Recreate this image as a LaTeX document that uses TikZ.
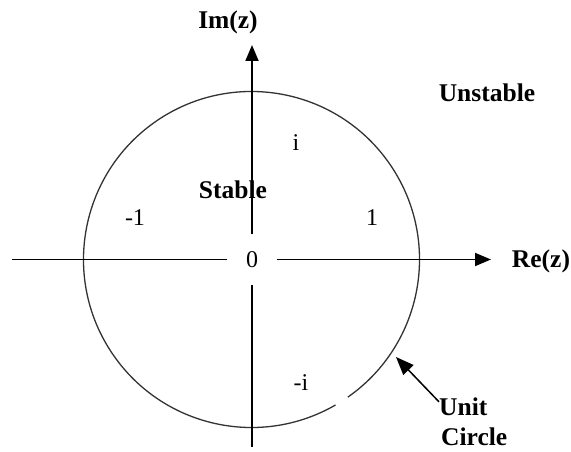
\documentclass[tikz,border=0pt]{standalone}
\usepackage{fontspec}
\setmainfont{Liberation Serif}
\usetikzlibrary{arrows.meta}
\begin{document}
\begin{tikzpicture}[x=1pt,y=-1pt,
  lbl/.style={inner sep=0pt,font=\fontsize{25.5}{30}\selectfont\bfseries},
  num/.style={inner sep=0pt,font=\fontsize{24}{30}\selectfont},
  axis/.style={line width=1.8pt,black},
  tip/.style={-{Triangle[length=16pt,width=13pt]}},
  ucircle/.style={line width=1.3pt,black!80}]
\useasboundingbox (0,0) rectangle (571,452);
% origin box
\node[num,minimum size=50pt] (o) at (252,259.5) {0};
\coordinate (c) at (251.5,259.5);
% circle with a small gap at lower right
\draw[ucircle] (c) ++(-55:168pt) arc[start angle=-55,end angle=300,radius=168pt];
% axes
\coordinate (xl) at (12,259.5);
\coordinate (xr) at (491,259.5);
\coordinate (yt) at (252,45);
\coordinate (yb) at (252,447);
\draw[axis] (xl) -- (o.west);
\draw[axis,tip] (o.east) -- (xr);
\draw[axis,tip] (o.north) -- (yt);
\draw[axis] (o.south) -- (yb);
% labels
\node[lbl] (im) at (228,22) {Im(z)};
\node[lbl] (re) at (541,261) {Re(z)};
\node[lbl] (un) at (487,93) {Unstable};
\node[lbl] (st) at (233,190) {Stable};
\node[num] (pi) at (296,143) {i};
\node[num] (m1) at (135,218) {-1};
\node[num] (p1) at (372,218) {1};
\node[num] (mi) at (301,383) {-i};
\node[lbl,align=left,anchor=west] (uc) at (439,422) {Unit\\\hspace*{2pt}Circle};
\coordinate (ctip) at (396,357);
\draw[line width=1.5pt,-{Triangle[length=18pt,width=14pt]}] ([yshift=-4pt]uc.north west) -- (ctip);
\end{tikzpicture}
\end{document}
